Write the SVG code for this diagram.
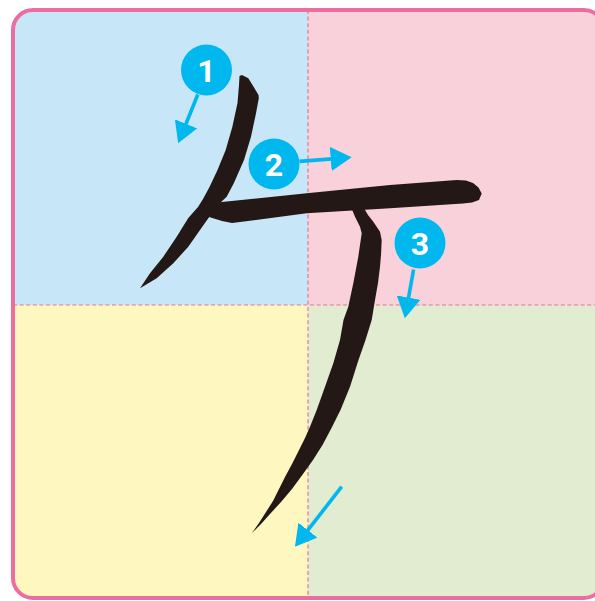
<svg xmlns="http://www.w3.org/2000/svg" width="595" height="601" viewBox="0 0 595 601">
  <style>
    .grid { stroke: #E8719F; stroke-width: 1.2; stroke-dasharray: 4 2.6; fill: none; }
    .ink { fill: #231815; }
    .badge { fill: #00B8EE; }
    .num { fill: #FFFFFF; font-family: Roboto, "Liberation Sans", sans-serif; font-weight: 700; font-size: 32px; text-anchor: middle; }
    .arrow { stroke: #00B8EE; stroke-width: 3.6; fill: none; marker-end: url(#head); }
  </style>
  <defs>
    <clipPath id="frame">
      <rect x="13" y="10" width="591" height="588" rx="20" ry="20"/>
    </clipPath>
    <marker id="head" markerUnits="userSpaceOnUse" markerWidth="22" markerHeight="24" refX="11" refY="12" orient="auto">
      <path d="M0,0 L21,12 L0,24 Z" fill="#00B8EE"/>
    </marker>
  </defs>

  <g id="background" clip-path="url(#frame)">
    <rect x="0" y="0" width="308" height="305" fill="#C7E7F9"/>
    <rect x="308" y="0" width="300" height="305" fill="#F9D1DB"/>
    <rect x="0" y="305" width="308" height="300" fill="#FEF8C0"/>
    <rect x="308" y="305" width="300" height="300" fill="#E1ECD0"/>
    <line class="grid" x1="308" y1="10" x2="308" y2="598"/>
    <line class="grid" x1="13" y1="305" x2="604" y2="305"/>
  </g>
  <rect id="border" x="13" y="10" width="591" height="588" rx="20" ry="20" fill="none" stroke="#EC6EA1" stroke-width="4"/>

  <g id="character">
    <path id="stroke1" class="ink" d="M239.5,76 L239,85 L237.5,103 L232.3,127 L225.7,150 L217.5,170 L209.5,187 L203,199 L198,207 L188.3,218 L176.7,236.7 L163.3,256.7 L150,273.3 L140,288.3 L156.7,278.3 L173.3,263.3 L188.3,246.7 L200,230 L208.3,218.3 L220,203 L226.7,196.7 L233.8,183.3 L244,160 L251,136.7 L256,113.3 L258.8,98.3 L258.5,95 L252.5,85 L248.3,78.3 L242,75 Z"/>
    <path id="stroke2" class="ink" d="M212,203 L306.7,193.3 L390,185 L456.7,180 L466,180.5 L473,183 L478.5,187.5 L481.7,193.5 L479,200 L472,202.5 L463,203.5 L390,208.3 L306.7,213.3 L232,223 L222,221 L209,217 Z"/>
    <path id="stroke3" class="ink" d="M351,207 L363.3,207 L368,215 L373.3,221.7 L380,231.7 L381.7,240 L381,255 L380,266.7 L378,283 L375,300 L371.7,320 L365.5,340 L358.5,360 L350,386.7 L340.5,410 L331.5,428 L322.5,445 L313,460 L303,474 L292,489 L281,502 L270,514 L261,524 L251.7,533.3 L259,523 L266,512 L273,501 L279,489 L285,477 L292,464 L299,450 L305,438 L310,426.7 L316.7,410 L325,386.7 L333.3,363.3 L340,340 L343.5,320 L348.3,306.7 L353.3,283.3 L358.3,256.7 L361.7,233.3 L360,226.7 L355,216.7 Z"/>
  </g>

  <g id="connectors">
    <path class="arrow" d="M197.8,94.5 L181.9,134"/>
    <path class="arrow" d="M299.5,161.4 L341.7,158.1"/>
    <path class="arrow" d="M413.6,269.5 L406.6,308.4"/>
    <path class="arrow" d="M341.7,486.7 L301.1,538.8"/>
  </g>

  <g id="badge1">
    <circle class="badge" cx="206.5" cy="70" r="25.5"/>
    <text class="num" x="206.5" y="81.5">1</text>
  </g>
  <g id="badge2">
    <circle class="badge" cx="274" cy="164" r="25.5"/>
    <text class="num" x="274" y="175.5">2</text>
  </g>
  <g id="badge3">
    <circle class="badge" cx="420" cy="243" r="25.5"/>
    <text class="num" x="420" y="254.5">3</text>
  </g>
</svg>
